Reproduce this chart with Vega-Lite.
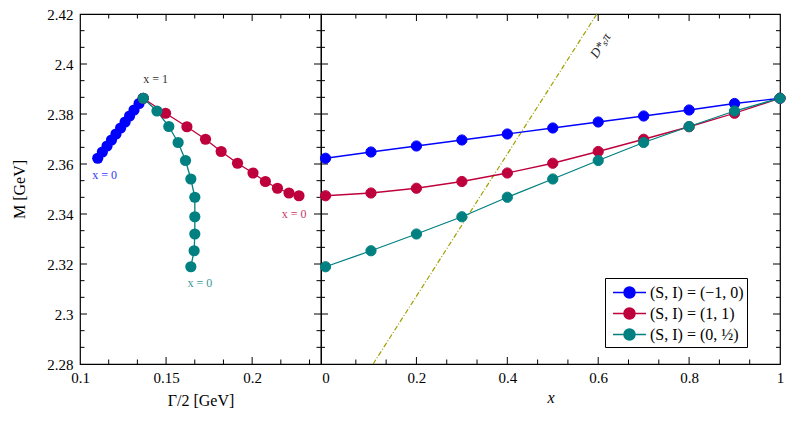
{
  "$schema": "https://vega.github.io/schema/vega-lite/v6.json",
  "padding": {"left": 11, "top": 6, "right": 12, "bottom": 5},
  "background": "white",
  "config": {
    "font": "Liberation Serif",
    "view": {"stroke": "black", "strokeWidth": 1.2},
    "axis": {"domain": false, "ticks": false, "grid": false, "labelColor": "black", "titleColor": "black", "labelFont": "Liberation Serif", "titleFont": "Liberation Serif", "labelFontSize": 15, "titleFontSize": 16, "titleFontWeight": "normal", "labelFlush": false, "labelOverlap": false},
    "legend": {"labelFont": "Liberation Serif"}
  },
  "datasets": {
    "pts": [
      {"s": "(S, I) = (−1, 0)", "xv": 0.0, "g": 0.1103, "m": 2.3623},
      {"s": "(S, I) = (−1, 0)", "xv": 0.1, "g": 0.1130, "m": 2.3648},
      {"s": "(S, I) = (−1, 0)", "xv": 0.2, "g": 0.1157, "m": 2.3672},
      {"s": "(S, I) = (−1, 0)", "xv": 0.3, "g": 0.1183, "m": 2.3696},
      {"s": "(S, I) = (−1, 0)", "xv": 0.4, "g": 0.1209, "m": 2.3720},
      {"s": "(S, I) = (−1, 0)", "xv": 0.5, "g": 0.1236, "m": 2.3744},
      {"s": "(S, I) = (−1, 0)", "xv": 0.6, "g": 0.1262, "m": 2.3768},
      {"s": "(S, I) = (−1, 0)", "xv": 0.7, "g": 0.1288, "m": 2.3792},
      {"s": "(S, I) = (−1, 0)", "xv": 0.8, "g": 0.1314, "m": 2.3816},
      {"s": "(S, I) = (−1, 0)", "xv": 0.9, "g": 0.1343, "m": 2.3842},
      {"s": "(S, I) = (−1, 0)", "xv": 1.0, "g": 0.1367, "m": 2.3863},
      {"s": "(S, I) = (1, 1)", "xv": 0.0, "g": 0.2272, "m": 2.3473},
      {"s": "(S, I) = (1, 1)", "xv": 0.1, "g": 0.2214, "m": 2.3484},
      {"s": "(S, I) = (1, 1)", "xv": 0.2, "g": 0.2147, "m": 2.3503},
      {"s": "(S, I) = (1, 1)", "xv": 0.3, "g": 0.2077, "m": 2.3530},
      {"s": "(S, I) = (1, 1)", "xv": 0.4, "g": 0.2005, "m": 2.3564},
      {"s": "(S, I) = (1, 1)", "xv": 0.5, "g": 0.1915, "m": 2.3603},
      {"s": "(S, I) = (1, 1)", "xv": 0.6, "g": 0.1820, "m": 2.3650},
      {"s": "(S, I) = (1, 1)", "xv": 0.7, "g": 0.1729, "m": 2.3699},
      {"s": "(S, I) = (1, 1)", "xv": 0.8, "g": 0.1621, "m": 2.3749},
      {"s": "(S, I) = (1, 1)", "xv": 0.9, "g": 0.1497, "m": 2.3803},
      {"s": "(S, I) = (1, 1)", "xv": 1.0, "g": 0.1367, "m": 2.3863},
      {"s": "(S, I) = (0, ½)", "xv": 0.0, "g": 0.1644, "m": 2.3189},
      {"s": "(S, I) = (0, ½)", "xv": 0.1, "g": 0.1663, "m": 2.3253},
      {"s": "(S, I) = (0, ½)", "xv": 0.2, "g": 0.1667, "m": 2.3320},
      {"s": "(S, I) = (0, ½)", "xv": 0.3, "g": 0.1667, "m": 2.3389},
      {"s": "(S, I) = (0, ½)", "xv": 0.4, "g": 0.1667, "m": 2.3467},
      {"s": "(S, I) = (0, ½)", "xv": 0.5, "g": 0.1644, "m": 2.3540},
      {"s": "(S, I) = (0, ½)", "xv": 0.6, "g": 0.1613, "m": 2.3614},
      {"s": "(S, I) = (0, ½)", "xv": 0.7, "g": 0.1570, "m": 2.3686},
      {"s": "(S, I) = (0, ½)", "xv": 0.8, "g": 0.1516, "m": 2.3750},
      {"s": "(S, I) = (0, ½)", "xv": 0.9, "g": 0.1447, "m": 2.3812},
      {"s": "(S, I) = (0, ½)", "xv": 1.0, "g": 0.1367, "m": 2.3863}
    ],
    "lbl": [
      {"g": 0.1439, "m": 2.3942, "t": "x = 1", "s": "all"},
      {"g": 0.1143, "m": 2.3556, "t": "x = 0", "s": "(S, I) = (−1, 0)"},
      {"g": 0.2244, "m": 2.3401, "t": "x = 0", "s": "(S, I) = (1, 1)"},
      {"g": 0.1696, "m": 2.3125, "t": "x = 0", "s": "(S, I) = (0, ½)"}
    ],
    "thr": [
      {"xv": 0.1046, "m": 2.28},
      {"xv": 0.597, "m": 2.42}
    ],
    "dlab": [
      {"xv": 0.605, "m": 2.4073, "t": "D*ₛπ"}
    ],
    "lxM": [{"v": 0.15}, {"v": 0.2}],
    "lxm": [{"v": 0.116667}, {"v": 0.133333}, {"v": 0.166667}, {"v": 0.183333}, {"v": 0.216667}, {"v": 0.233333}],
    "rxM": [{"v": 0.2}, {"v": 0.4}, {"v": 0.6}, {"v": 0.8}],
    "rxm": [{"v": 0.066667}, {"v": 0.133333}, {"v": 0.266667}, {"v": 0.333333}, {"v": 0.466667}, {"v": 0.533333}, {"v": 0.666667}, {"v": 0.733333}, {"v": 0.866667}, {"v": 0.933333}],
    "yM": [{"v": 2.3}, {"v": 2.32}, {"v": 2.34}, {"v": 2.36}, {"v": 2.38}, {"v": 2.4}],
    "ym": [{"v": 2.286667}, {"v": 2.293333}, {"v": 2.306667}, {"v": 2.313333}, {"v": 2.326667}, {"v": 2.333333}, {"v": 2.346667}, {"v": 2.353333}, {"v": 2.366667}, {"v": 2.373333}, {"v": 2.386667}, {"v": 2.393333}, {"v": 2.406667}, {"v": 2.413333}]
  },
  "spacing": 0,
  "bounds": "flush",
  "resolve": {"scale": {"x": "independent", "y": "independent", "color": "independent"}, "legend": {"color": "independent"}},
  "hconcat": [
    {
      "width": 241,
      "height": 350,
      "resolve": {"axis": {"x": "independent", "y": "independent"}},
      "layer": [
        {
          "data": {"name": "pts"},
          "mark": {"type": "point", "opacity": 0},
          "encoding": {
            "x": {"field": "g", "type": "quantitative", "scale": {"domain": [0.1, 0.24], "nice": false, "zero": false}, "axis": {"orient": "bottom", "values": [0.1, 0.15, 0.2], "format": ".2~f", "labelPadding": 6, "title": "Γ/2 [GeV]", "titlePadding": 7}},
            "y": {"field": "m", "type": "quantitative", "scale": {"domain": [2.28, 2.42], "nice": false, "zero": false}, "axis": {"orient": "left", "values": [2.28, 2.3, 2.32, 2.34, 2.36, 2.38, 2.4, 2.42], "format": ".2~f", "labelPadding": 7, "title": "M [GeV]", "titlePadding": 19}}
          }
        },
        {"data": {"name": "lxM"}, "mark": {"type": "rule", "color": "black", "strokeWidth": 1}, "encoding": {"x": {"field": "v", "type": "quantitative", "axis": null}, "y": {"datum": 2.28, "type": "quantitative", "axis": null}, "y2": {"datum": 2.2828}}},
        {"data": {"name": "lxM"}, "mark": {"type": "rule", "color": "black", "strokeWidth": 1}, "encoding": {"x": {"field": "v", "type": "quantitative", "axis": null}, "y": {"datum": 2.42, "type": "quantitative", "axis": null}, "y2": {"datum": 2.4172}}},
        {"data": {"name": "lxm"}, "mark": {"type": "rule", "color": "black", "strokeWidth": 1}, "encoding": {"x": {"field": "v", "type": "quantitative", "axis": null}, "y": {"datum": 2.28, "type": "quantitative", "axis": null}, "y2": {"datum": 2.2818}}},
        {"data": {"name": "lxm"}, "mark": {"type": "rule", "color": "black", "strokeWidth": 1}, "encoding": {"x": {"field": "v", "type": "quantitative", "axis": null}, "y": {"datum": 2.42, "type": "quantitative", "axis": null}, "y2": {"datum": 2.4182}}},
        {"data": {"name": "yM"}, "mark": {"type": "rule", "color": "black", "strokeWidth": 1}, "encoding": {"y": {"field": "v", "type": "quantitative", "axis": null}, "x": {"datum": 0.1, "type": "quantitative", "axis": null}, "x2": {"datum": 0.10407}}},
        {"data": {"name": "yM"}, "mark": {"type": "rule", "color": "black", "strokeWidth": 1}, "encoding": {"y": {"field": "v", "type": "quantitative", "axis": null}, "x": {"datum": 0.24, "type": "quantitative", "axis": null}, "x2": {"datum": 0.23593}}},
        {"data": {"name": "ym"}, "mark": {"type": "rule", "color": "black", "strokeWidth": 1}, "encoding": {"y": {"field": "v", "type": "quantitative", "axis": null}, "x": {"datum": 0.1, "type": "quantitative", "axis": null}, "x2": {"datum": 0.10261}}},
        {"data": {"name": "ym"}, "mark": {"type": "rule", "color": "black", "strokeWidth": 1}, "encoding": {"y": {"field": "v", "type": "quantitative", "axis": null}, "x": {"datum": 0.24, "type": "quantitative", "axis": null}, "x2": {"datum": 0.23739}}},
        {
          "data": {"name": "pts"},
          "mark": {"type": "line", "strokeWidth": 1.3},
          "encoding": {
            "x": {"field": "g", "type": "quantitative", "axis": null},
            "y": {"field": "m", "type": "quantitative", "axis": null},
            "color": {"field": "s", "type": "nominal", "scale": {"domain": ["(S, I) = (−1, 0)", "(S, I) = (1, 1)", "(S, I) = (0, ½)"], "range": ["#0000ff", "#be003c", "#008080"]}, "legend": null},
            "order": {"field": "xv", "type": "quantitative"}
          }
        },
        {
          "data": {"name": "pts"},
          "mark": {"type": "point", "shape": "circle", "filled": true, "opacity": 1, "size": 125},
          "encoding": {
            "x": {"field": "g", "type": "quantitative", "axis": null},
            "y": {"field": "m", "type": "quantitative", "axis": null},
            "color": {"field": "s", "type": "nominal", "legend": null}
          }
        },
        {
          "data": {"name": "lbl"},
          "transform": [{"filter": "datum.s === 'all'"}],
          "mark": {"type": "text", "fontSize": 12, "color": "#333333", "font": "Liberation Serif"},
          "encoding": {
            "x": {"field": "g", "type": "quantitative", "axis": null},
            "y": {"field": "m", "type": "quantitative", "axis": null},
            "text": {"field": "t"}
          }
        },
        {
          "data": {"name": "lbl"},
          "transform": [{"filter": "datum.s !== 'all'"}],
          "mark": {"type": "text", "fontSize": 12, "opacity": 0.8, "font": "Liberation Serif"},
          "encoding": {
            "x": {"field": "g", "type": "quantitative", "axis": null},
            "y": {"field": "m", "type": "quantitative", "axis": null},
            "text": {"field": "t"},
            "color": {"field": "s", "type": "nominal", "legend": null}
          }
        }
      ]
    },
    {
      "width": 459,
      "height": 350,
      "resolve": {"axis": {"x": "independent", "y": "independent"}},
      "layer": [
        {
          "data": {"name": "pts"},
          "mark": {"type": "point", "opacity": 0},
          "encoding": {
            "x": {"field": "xv", "type": "quantitative", "scale": {"domain": [-0.01, 1.0], "nice": false, "zero": false}, "axis": {"orient": "bottom", "values": [0, 0.2, 0.4, 0.6, 0.8, 1], "format": "~g", "labelPadding": 6, "title": "x", "titleFontStyle": "italic", "titlePadding": 4}},
            "y": {"field": "m", "type": "quantitative", "scale": {"domain": [2.28, 2.42], "nice": false, "zero": false}, "axis": null}
          }
        },
        {"data": {"name": "rxM"}, "mark": {"type": "rule", "color": "black", "strokeWidth": 1}, "encoding": {"x": {"field": "v", "type": "quantitative", "axis": null}, "y": {"datum": 2.28, "type": "quantitative", "axis": null}, "y2": {"datum": 2.2828}}},
        {"data": {"name": "rxM"}, "mark": {"type": "rule", "color": "black", "strokeWidth": 1}, "encoding": {"x": {"field": "v", "type": "quantitative", "axis": null}, "y": {"datum": 2.42, "type": "quantitative", "axis": null}, "y2": {"datum": 2.4172}}},
        {"data": {"name": "rxm"}, "mark": {"type": "rule", "color": "black", "strokeWidth": 1}, "encoding": {"x": {"field": "v", "type": "quantitative", "axis": null}, "y": {"datum": 2.28, "type": "quantitative", "axis": null}, "y2": {"datum": 2.2818}}},
        {"data": {"name": "rxm"}, "mark": {"type": "rule", "color": "black", "strokeWidth": 1}, "encoding": {"x": {"field": "v", "type": "quantitative", "axis": null}, "y": {"datum": 2.42, "type": "quantitative", "axis": null}, "y2": {"datum": 2.4182}}},
        {"data": {"name": "yM"}, "mark": {"type": "rule", "color": "black", "strokeWidth": 1}, "encoding": {"y": {"field": "v", "type": "quantitative", "axis": null}, "x": {"datum": -0.01, "type": "quantitative", "axis": null}, "x2": {"datum": 0.0054}}},
        {"data": {"name": "yM"}, "mark": {"type": "rule", "color": "black", "strokeWidth": 1}, "encoding": {"y": {"field": "v", "type": "quantitative", "axis": null}, "x": {"datum": 1.0, "type": "quantitative", "axis": null}, "x2": {"datum": 0.9846}}},
        {"data": {"name": "ym"}, "mark": {"type": "rule", "color": "black", "strokeWidth": 1}, "encoding": {"y": {"field": "v", "type": "quantitative", "axis": null}, "x": {"datum": -0.01, "type": "quantitative", "axis": null}, "x2": {"datum": -0.0012}}},
        {"data": {"name": "ym"}, "mark": {"type": "rule", "color": "black", "strokeWidth": 1}, "encoding": {"y": {"field": "v", "type": "quantitative", "axis": null}, "x": {"datum": 1.0, "type": "quantitative", "axis": null}, "x2": {"datum": 0.9912}}},
        {
          "data": {"name": "thr"},
          "mark": {"type": "line", "color": "#9f9f00", "strokeWidth": 1.2, "strokeDash": [5, 2, 1, 2], "clip": true},
          "encoding": {
            "x": {"field": "xv", "type": "quantitative", "axis": null},
            "y": {"field": "m", "type": "quantitative", "axis": null}
          }
        },
        {
          "data": {"name": "dlab"},
          "mark": {"type": "text", "fontSize": 13, "fontStyle": "italic", "angle": 303, "color": "#222222"},
          "encoding": {
            "x": {"field": "xv", "type": "quantitative", "axis": null},
            "y": {"field": "m", "type": "quantitative", "axis": null},
            "text": {"field": "t"}
          }
        },
        {
          "data": {"name": "pts"},
          "mark": {"type": "line", "strokeWidth": 1.3},
          "encoding": {
            "x": {"field": "xv", "type": "quantitative", "axis": null},
            "y": {"field": "m", "type": "quantitative", "axis": null},
            "stroke": {"field": "s", "type": "nominal", "scale": {"domain": ["(S, I) = (−1, 0)", "(S, I) = (1, 1)", "(S, I) = (0, ½)"], "range": ["#0000ff", "#be003c", "#008080"]}, "legend": {"title": null, "orient": "none", "legendX": 525, "legendY": 264, "symbolType": "M-1.571,0L-0.524,0M0.524,0L1.571,0M-0.524,0A0.524,0.524 0 1,1 0.524,0A0.524,0.524 0 1,1 -0.524,0Z", "symbolSize": 441, "symbolStrokeWidth": 1.5, "symbolOffset": 10, "labelFontSize": 16, "labelOffset": 9, "strokeColor": "black", "fillColor": "white", "padding": 3, "rowPadding": 0, "cornerRadius": 0}},
            "order": {"field": "xv", "type": "quantitative"}
          }
        },
        {
          "data": {"name": "pts"},
          "mark": {"type": "point", "shape": "circle", "filled": true, "opacity": 1, "size": 105, "strokeWidth": 1},
          "encoding": {
            "x": {"field": "xv", "type": "quantitative", "axis": null},
            "y": {"field": "m", "type": "quantitative", "axis": null},
            "fill": {"field": "s", "type": "nominal", "scale": {"domain": ["(S, I) = (−1, 0)", "(S, I) = (1, 1)", "(S, I) = (0, ½)"], "range": ["#0000ff", "#be003c", "#008080"]}, "legend": {"title": null, "orient": "none", "legendX": 525, "legendY": 264, "symbolType": "M-1.571,0L-0.524,0M0.524,0L1.571,0M-0.524,0A0.524,0.524 0 1,1 0.524,0A0.524,0.524 0 1,1 -0.524,0Z", "symbolSize": 441, "symbolStrokeWidth": 1.5, "symbolOffset": 10, "labelFontSize": 16, "labelOffset": 9, "strokeColor": "black", "fillColor": "white", "padding": 3, "rowPadding": 0, "cornerRadius": 0}},
            "stroke": {"field": "s", "type": "nominal"}
          }
        }
      ]
    }
  ]
}
